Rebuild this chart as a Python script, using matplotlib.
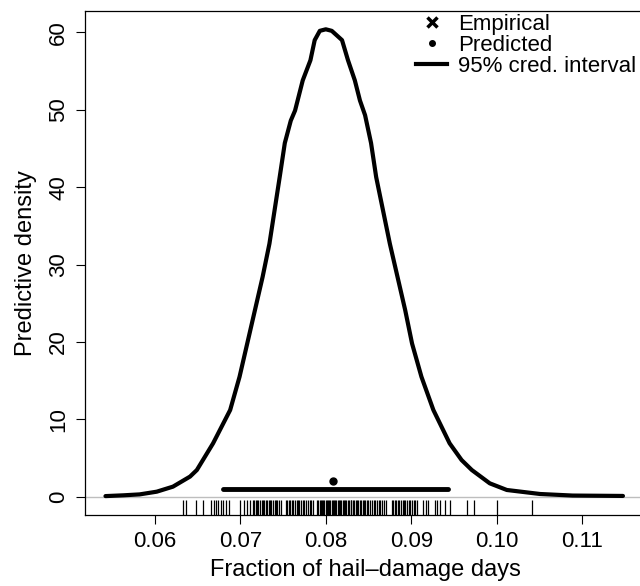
import matplotlib
matplotlib.use("Agg")
import matplotlib.pyplot as plt
from matplotlib.lines import Line2D
import numpy as np

plt.rcParams['font.family'] = ['Liberation Sans', 'DejaVu Sans']

# predictive density curve
dens_x = [0.0542, 0.0563, 0.0582, 0.0602, 0.0621, 0.0641, 0.0649, 0.0668,
          0.0688, 0.0699, 0.0708, 0.0717, 0.0726, 0.0734, 0.0740, 0.0746,
          0.0752, 0.0759, 0.0764, 0.0773, 0.0782, 0.0787, 0.0793, 0.0800,
          0.0807, 0.0813, 0.0819, 0.0826, 0.0834, 0.0840, 0.0846, 0.0853,
          0.0859, 0.0867, 0.0875, 0.0884, 0.0893, 0.0901, 0.0912, 0.0926,
          0.0945, 0.0959, 0.0971, 0.0992, 0.1012, 0.1051, 0.1089, 0.1148]
dens_y = [0.08, 0.18, 0.30, 0.65, 1.30, 2.6, 3.45, 6.9,
          11.2, 15.5, 19.8, 24.1, 28.4, 32.7, 37.0, 41.3,
          45.7, 48.6, 49.9, 53.8, 56.4, 59.0, 60.2, 60.4,
          60.2, 59.6, 59.0, 56.4, 53.8, 51.2, 49.3, 45.7,
          41.3, 37.0, 32.7, 28.4, 24.1, 19.8, 15.5, 11.2,
          6.9, 4.74, 3.45, 1.73, 0.87, 0.35, 0.15, 0.10]

# 95% credible interval and predicted value
ci_lo, ci_hi, ci_y = 0.0680, 0.0943, 1.0
pred_x, pred_y = 0.0808, 2.0

# observed fractions (rug)
rug_x = [0.0633, 0.0636, 0.0648, 0.0656,
         0.0666, 0.0669, 0.0671, 0.0674, 0.0677, 0.0680, 0.0683, 0.0687,
         0.0699, 0.0704, 0.0708, 0.0711,
         0.0715, 0.0716, 0.0718, 0.0720, 0.0721, 0.0723, 0.0725, 0.0726,
         0.0728, 0.0730, 0.0731, 0.0733, 0.0735, 0.0736, 0.0738, 0.0740,
         0.0742, 0.0743, 0.0745, 0.0747,
         0.0753, 0.0755, 0.0757, 0.0758, 0.0760, 0.0762, 0.0764, 0.0766,
         0.0767, 0.0769, 0.0771, 0.0773, 0.0775, 0.0777, 0.0779, 0.0781,
         0.0783, 0.0785,
         0.0790, 0.0791, 0.0793, 0.0794, 0.0795, 0.0797, 0.0798, 0.0800,
         0.0801, 0.0802, 0.0804, 0.0805, 0.0807, 0.0808, 0.0810, 0.0811,
         0.0812, 0.0814, 0.0815, 0.0817, 0.0818, 0.0820, 0.0821, 0.0823,
         0.0824, 0.0826, 0.0827, 0.0829, 0.0830, 0.0832, 0.0833, 0.0835,
         0.0836, 0.0838, 0.0840, 0.0841, 0.0843, 0.0845, 0.0846, 0.0848,
         0.0850, 0.0852, 0.0854, 0.0856, 0.0858, 0.0860, 0.0862, 0.0864,
         0.0866, 0.0868, 0.0870,
         0.0877, 0.0879, 0.0881, 0.0882, 0.0884, 0.0886, 0.0888, 0.0890,
         0.0892, 0.0893, 0.0895, 0.0897, 0.0899, 0.0901, 0.0903, 0.0905,
         0.0907,
         0.0914, 0.0917, 0.0920, 0.0928, 0.0930, 0.0934, 0.0940, 0.0945,
         0.0965, 0.0973, 0.1001, 0.1042]

x_ticks = [0.06, 0.07, 0.08, 0.09, 0.10, 0.11]
x_ticklabels = ["0.06", "0.07", "0.08", "0.09", "0.10", "0.11"]
y_ticks = [0, 10, 20, 30, 40, 50, 60]

fig = plt.figure(figsize=(6.4, 5.86), dpi=100)
ax = fig.add_axes([0.1328, 0.1212, 0.875, 0.8605])

ax.axhline(0, color="#bebebe", lw=1, zorder=1)
ax.plot(dens_x, dens_y, color="black", lw=3, solid_capstyle="round",
        solid_joinstyle="round", zorder=3)
ax.plot([ci_lo, ci_hi], [ci_y, ci_y], color="black", lw=3.5,
        solid_capstyle="round", zorder=3)
ax.plot([pred_x], [pred_y], "o", color="black", ms=5, zorder=4)
ax.vlines(rug_x, 0, 0.03, transform=ax.get_xaxis_transform(),
          color="black", lw=0.9)

ax.set_xlim(0.0518, 0.11738)
ax.set_ylim(-2.36, 62.8)
ax.set_xticks(x_ticks)
ax.set_xticklabels(x_ticklabels)
ax.set_yticks(y_ticks)
ax.tick_params(labelsize=16, length=6.5, width=0.8, pad=5)
for lab in ax.get_yticklabels():
    lab.set_rotation(90)
    lab.set_va("center")
for s in ax.spines.values():
    s.set_linewidth(0.9)

ax.set_xlabel("Fraction of hail\u2013damage days", fontsize=17, labelpad=5)
ax.set_ylabel("Predictive density", fontsize=17, labelpad=8)

handles = [Line2D([], [], ls="none", marker="x", color="black", ms=7, mew=2.5),
           Line2D([], [], ls="none", marker="o", color="black", ms=4),
           Line2D([], [], color="black", lw=3)]
labels = ["Empirical", "Predicted", "95% cred. interval"]
ax.legend(handles, labels, loc="upper left", bbox_to_anchor=(0.65, 0.976),
          bbox_transform=fig.transFigure, frameon=False, fontsize=16,
          handlelength=1.4, handletextpad=0.5, labelspacing=0.0,
          borderpad=0, borderaxespad=0)

fig.savefig("out.png", dpi=100)
